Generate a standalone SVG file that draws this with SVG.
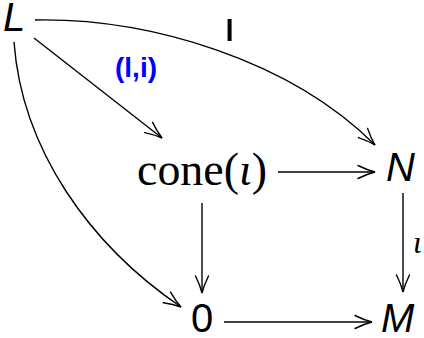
<svg xmlns="http://www.w3.org/2000/svg" width="424" height="338" viewBox="0 0 424 338">
<style>
.obj{font-family:"Liberation Sans",Arial,sans-serif;font-size:40px;fill:#000}
.it{font-style:italic}
.serif{font-family:"Liberation Serif","Times New Roman",serif;fill:#000}
.edge{fill:none;stroke:#000;stroke-width:1.4;marker-end:url(#ah)}
.lbl{font-family:"Liberation Sans",Arial,sans-serif;font-weight:bold}
</style>
<defs>
<marker id="ah" markerUnits="userSpaceOnUse" orient="auto" markerWidth="24" markerHeight="16" refX="0" refY="0" viewBox="-20 -8 24 16" overflow="visible">
<path d="M-17,-6.5 C-11,-3.5 -4,-1 0,0 C-4,1 -11,3.5 -17,6.5" fill="none" stroke="#000" stroke-width="1.4" stroke-linecap="round"/>
</marker>
</defs>
<rect width="424" height="338" fill="#fff"/>
<g id="connectors">
<path class="edge" d="M35,20 C150,18 290,60 375,145"/>
<path class="edge" d="M34,38 L162,138"/>
<path class="edge" d="M14,42 C22,150 90,245 181,307"/>
<path class="edge" d="M278,172 L375,172"/>
<path class="edge" d="M202,203 L202,293"/>
<path class="edge" d="M403,193 L403,292"/>
<path class="edge" d="M224,322 L372,322"/>
<text class="lbl" x="229.5" y="41" font-size="29" text-anchor="middle">l</text>
<text class="lbl" x="136" y="77" font-size="28" text-anchor="middle" fill="#0000ff">(l,i)</text>
<text class="serif" x="413" y="253" font-size="32" font-style="italic">ι</text>
</g>
<g id="L"><text class="obj it" x="3" y="31">L</text></g>
<g id="cone"><text class="serif" x="137" y="185" font-size="46" textLength="130" lengthAdjust="spacingAndGlyphs">cone(<tspan font-style="italic">ι</tspan>)</text></g>
<g id="N"><text class="obj it" x="386" y="181">N</text></g>
<g id="zero"><text class="obj" x="191" y="332">0</text></g>
<g id="M"><text class="obj it" x="381" y="332">M</text></g>
</svg>
